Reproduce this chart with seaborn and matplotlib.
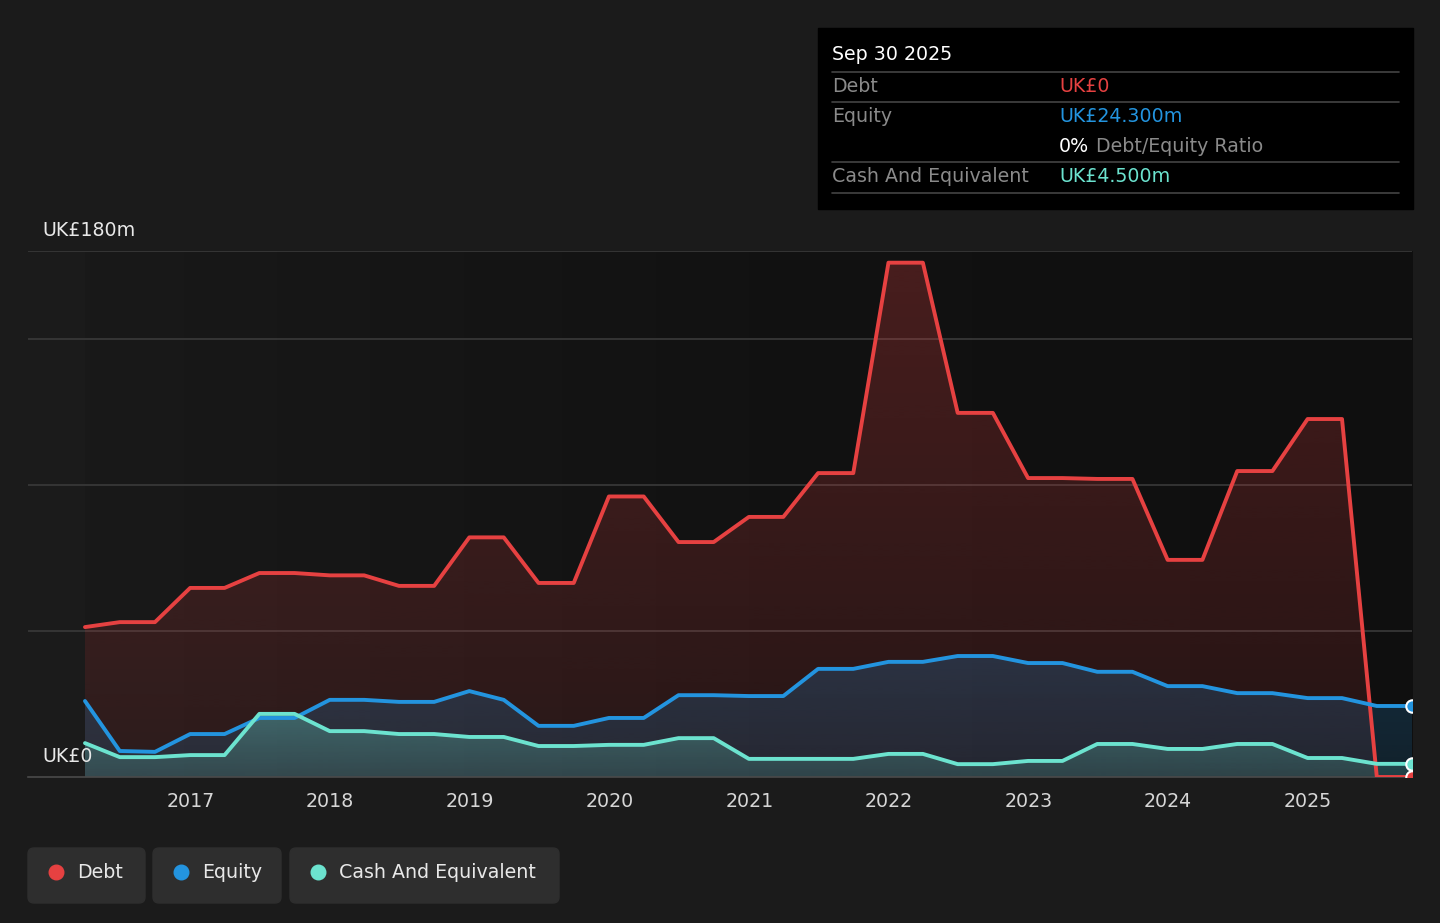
import pandas as pd
import numpy as np
import matplotlib
matplotlib.use("Agg")
import matplotlib.pyplot as plt
import matplotlib.dates as mdates
from matplotlib.colors import to_rgb
from matplotlib.patches import FancyBboxPatch, Rectangle
import seaborn as sns

# quarterly values, UK£ millions
dates = pd.date_range("2016-03-31", "2025-09-30", freq="QE")
debt = [51.3, 53, 53, 64.7, 64.7, 69.8, 69.8, 69, 69, 65.4, 65.4, 82, 82, 66.4, 66.4,
        96, 96, 80.4, 80.4, 89, 89, 104, 104, 176, 176, 124.6, 124.6, 102.3, 102.3,
        102, 102, 74.3, 74.3, 104.7, 104.7, 122.5, 122.5, 0, 0]
equity = [26, 8.9, 8.6, 14.7, 14.7, 20.2, 20.2, 26.4, 26.4, 25.7, 25.7, 29.4, 26.4,
          17.5, 17.5, 20.2, 20.2, 28, 28, 27.7, 27.7, 37, 37, 39.4, 39.4, 41.4, 41.4,
          39, 39, 36, 36, 31.1, 31.1, 28.7, 28.7, 27, 27, 24.3, 24.3]
cash = [11.6, 6.8, 6.8, 7.5, 7.5, 21.6, 21.6, 15.7, 15.7, 14.7, 14.7, 13.7, 13.7,
        10.6, 10.6, 11, 11, 13.3, 13.3, 6.2, 6.2, 6.2, 6.2, 7.9, 7.9, 4.4, 4.4, 5.5,
        5.5, 11.3, 11.3, 9.6, 9.6, 11.3, 11.3, 6.5, 6.5, 4.5, 4.5]
series_names = ["Debt", "Equity", "Cash And Equivalent"]
colors = ["#e64141", "#2394df", "#6ce3cf"]
# alpha at top of chart / at zero line for the area gradients
fill_alpha = [(0.26, 0.10), (0.22, 0.14), (0.30, 0.16)]
year_ticks = list(range(2017, 2026))

df = pd.DataFrame({"date": dates, "Debt": debt, "Equity": equity, "Cash And Equivalent": cash})

sns.set_style("dark")
plt.rcParams["font.family"] = ["DejaVu Sans"]
bg = "#1b1b1b"

W, H = 1440, 923
fig = plt.figure(figsize=(W / 100, H / 100), dpi=100, facecolor=bg)
ax = fig.add_axes([28 / W, (H - 777) / H, (1412 - 28) / W, (777 - 251) / H])
ax.set_facecolor(bg)

x0 = pd.Timestamp("2015-11-03")
x1 = pd.Timestamp("2025-09-30")
ax.set_xlim(x0, x1)
ax.set_ylim(0, 180)
xs = mdates.date2num(dates[0])
xe = mdates.date2num(x1)

# darker background over the data period
grad = np.linspace(0, 1, 256).reshape(1, -1)
cmap = matplotlib.colors.LinearSegmentedColormap.from_list("bgg", ["#191919", "#121212", "#0f0f0f"])
ax.imshow(grad, cmap=cmap, aspect="auto", zorder=0, extent=[xs, xe, 0, 180])

for yv in [50, 100, 150, 180]:
    ax.axhline(yv, color="#3a3a3a", lw=1.2, zorder=1)

# area fills with vertical gradient, clipped to each series' polygon
for i, (name, c, (a_top, a_bot)) in enumerate(zip(series_names, colors, fill_alpha)):
    poly = ax.fill_between(df["date"], df[name], 0, color=c, alpha=0, lw=0)
    top = max(df[name].max(), 1)
    rgba = np.zeros((256, 1, 4))
    rgba[..., :3] = to_rgb(c)
    rgba[:, 0, 3] = np.linspace(a_top, a_bot, 256)
    im = ax.imshow(rgba, aspect="auto", extent=[xs, xe, 0, top], origin="upper",
                   zorder=2 + i * 0.1, interpolation="bilinear")
    im.set_clip_path(poly.get_paths()[0], transform=ax.transData)

for name, c in zip(series_names, colors):
    sns.lineplot(data=df, x="date", y=name, color=c, lw=2.8, ax=ax, zorder=4)
    ax.scatter([df["date"].iloc[-1]], [df[name].iloc[-1]], s=80, color=c,
               edgecolor="white", linewidth=1.5, zorder=6, clip_on=True)

ax.set_xlim(x0, x1)
ax.set_ylim(0, 180)
for s in ["top", "left", "right"]:
    ax.spines[s].set_visible(False)
ax.spines["bottom"].set_color("#4a4a4a")
ax.spines["bottom"].set_linewidth(1.2)
ax.set_xticks([pd.Timestamp(f"{y}-01-01") for y in year_ticks])
ax.set_xticklabels([str(y) for y in year_ticks])
ax.tick_params(axis="x", colors="#d6d6d6", labelsize=13.7, length=5, width=1, color="#4a4a4a", pad=6)
ax.set_yticks([])
ax.set_xlabel("")
ax.set_ylabel("")
ax.grid(False)

# overlay in pixel coordinates for labels, tooltip and legend
ov = fig.add_axes([0, 0, 1, 1], facecolor="none")
ov.set_xlim(0, W)
ov.set_ylim(H, 0)
ov.axis("off")

ov.text(42, 230, "UK£180m", color="#e8e8e8", fontsize=13.7, va="center", ha="left")
ov.text(42, 757, "UK£0", color="#e8e8e8", fontsize=13.7, va="center", ha="left")

# tooltip
ov.add_patch(Rectangle((818, 28), 595, 181, color="#000000", zorder=1))
ov.text(832, 55, "Sep 30 2025", color="white", fontsize=13.7, va="center", zorder=2)
for yl in [72, 102, 162, 193]:
    ov.plot([832, 1399], [yl, yl], color="#444444", lw=1.2, zorder=2)
label_gray = "#8a8a8a"
ov.text(832, 87, "Debt", color=label_gray, fontsize=13.7, va="center", zorder=2)
ov.text(1059, 87, "UK£0", color=colors[0], fontsize=13.7, va="center", zorder=2)
ov.text(832, 117, "Equity", color=label_gray, fontsize=13.7, va="center", zorder=2)
ov.text(1059, 117, "UK£24.300m", color=colors[1], fontsize=13.7, va="center", zorder=2)
ov.text(1059, 147, "0%", color="white", fontsize=13.7, va="center", zorder=2)
ov.text(1096, 147, "Debt/Equity Ratio", color=label_gray, fontsize=13.7, va="center", zorder=2)
ov.text(832, 177, "Cash And Equivalent", color=label_gray, fontsize=13.7, va="center", zorder=2)
ov.text(1059, 177, "UK£4.500m", color=colors[2], fontsize=13.7, va="center", zorder=2)

# legend chips
chips = [(28, 117), (153, 128), (290, 269)]
for (lx, lw), name, c in zip(chips, series_names, colors):
    ov.add_patch(FancyBboxPatch((lx, 848), lw, 55, boxstyle="round,pad=0,rounding_size=6",
                                color="#2e2e2e", zorder=1))
    ov.scatter([lx + 28], [872], s=110, color=c, zorder=2)
    ov.text(lx + 49, 873, name, color="#e8e8e8", fontsize=13.7, va="center", zorder=2)

fig.savefig("out.png", dpi=100, facecolor=bg)
